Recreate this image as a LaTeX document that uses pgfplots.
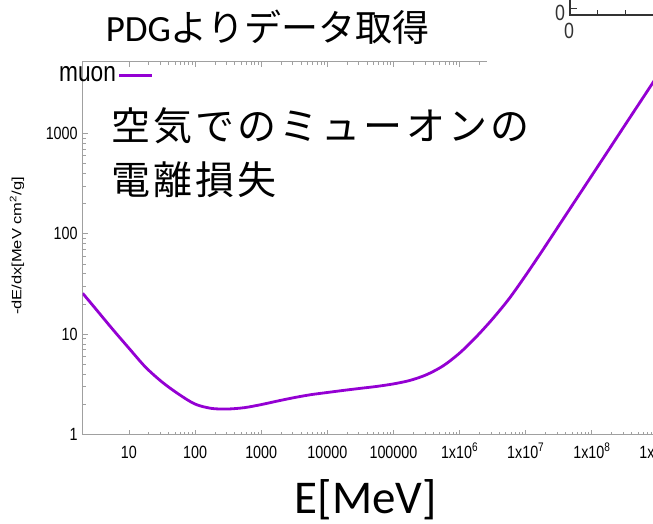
\documentclass[border=0pt]{standalone}
\usepackage{fontspec}
\usepackage{pgfplots}
\pgfplotsset{compat=1.18}
\setmainfont{Liberation Sans}
\newfontfamily\narrowsans{Liberation Sans}[FakeStretch=0.81]
\newfontfamily\widesans{Liberation Sans}[FakeStretch=1.23]
\newfontfamily\calibri{Carlito}
\newfontfamily\cjk{Noto Sans CJK JP}
\newfontfamily\cjkspaced{Noto Sans CJK JP}[LetterSpace=8]
\definecolor{muoncol}{HTML}{9400D3}
\definecolor{framegray}{HTML}{A0A0A0}

\pgfplotstableread{
E v
2 25.56
3.162 17.80
5.623 11.27
10 7.25
17.78 4.70
31.62 3.34
56.23 2.53
100 2.01
177.8 1.82
316.2 1.796
562.3 1.854
1000 1.987
1778 2.158
3162 2.333
5623 2.494
10000 2.623
17783 2.755
31623 2.885
56234 3.017
100000 3.195
177828 3.462
316228 3.947
562341 4.830
1000000 6.480
1778279 9.38
3162278 14.24
5623413 22.64
10000000 38.66
17782794 67.85
31622777 120.7
56234133 214.8
100000000 382.3
177827941 680.0
316227766 1213
562341325 2158
1000000000 3839
}\muondata

\begin{document}
\begin{tikzpicture}
\useasboundingbox (0,0) rectangle (653pt,-524pt);
\clip (0,0) rectangle (653pt,-524pt);
\begin{axis}[
  at={(82.7pt,-434.5pt)}, anchor=south west,
  scale only axis, width=575.3pt, height=372.8pt,
  xmode=log, ymode=log,
  xmin=2, xmax=1e9, ymin=1, ymax=5200,
  xtickten={1,...,9}, ytickten={0,...,3},
  xticklabels={10,100,1000,10000,100000,1x10\textsuperscript{6},1x10\textsuperscript{7},1x10\textsuperscript{8},1x10\textsuperscript{9}},
  yticklabels={1,10,100,1000},
  axis line style={framegray, line width=1.2pt},
  tick style={framegray, line width=0.8pt},
  major tick length=5pt, minor tick length=3pt,
  tick align=inside,
  ticklabel style={font=\narrowsans\fontsize{17.7}{18}\selectfont, text=black},
  xticklabel style={text height=13pt, text depth=0pt, anchor=north, yshift=-7pt},
  yticklabel style={xshift=-1.5pt},
  ylabel={-dE/dx[MeV cm\textsuperscript{2}/g]},
  ylabel style={font=\widesans\fontsize{13.4}{14}\selectfont, text=black,
    at={(axis description cs:-0.1142,0.5056)}, anchor=center},
  legend style={at={(axis description cs:-0.0447,0.964)}, anchor=west,
    draw=none, fill=none, inner sep=0pt,
    font=\narrowsans\fontsize{28}{28}\selectfont, text=black},
  legend plot pos=right,
  legend image code/.code={\draw[#1] (3pt,0pt) -- (36pt,0pt);},
]
\addplot[muoncol, line width=2.8pt, smooth] table[x=E, y=v] {\muondata};
\addlegendentry{muon}
\end{axis}
\fill[white] (487pt,0pt) rectangle (653pt,-67pt);
% fragment of another picture at top right
\draw[black!80, line width=1.4pt] (570pt,0pt) -- (570pt,-15pt) -- (653pt,-15pt);
\draw[black!80, line width=0.9pt] (597pt,-15pt) -- (597pt,-10pt);
\draw[black!80, line width=0.9pt] (625pt,-15pt) -- (625pt,-10pt);
\draw[black!80, line width=0.9pt] (570pt,-8pt) -- (577pt,-8pt);
\node[font=\narrowsans\fontsize{22}{22}\selectfont, text=black!80] at (560pt,-13pt) {0};
\node[font=\narrowsans\fontsize{22}{22}\selectfont, text=black!80] at (569pt,-31pt) {0};
% slide texts
\node[anchor=base, inner sep=0pt, font=\fontsize{37}{40}\selectfont] at (267.5pt,-42pt) {{\calibri PDG}{\cjk よりデータ取得}};
\node[anchor=base west, inner sep=0pt, font=\cjkspaced\fontsize{39}{48}\selectfont] at (111pt,-141pt) {空気でのミューオンの};
\node[anchor=base west, inner sep=0pt, font=\cjkspaced\fontsize{39}{48}\selectfont] at (111pt,-194pt) {電離損失};
\node[anchor=base, inner sep=0pt, font=\calibri\fontsize{47}{50}\selectfont] at (366pt,-513pt) {E[MeV]};
\end{tikzpicture}
\end{document}
